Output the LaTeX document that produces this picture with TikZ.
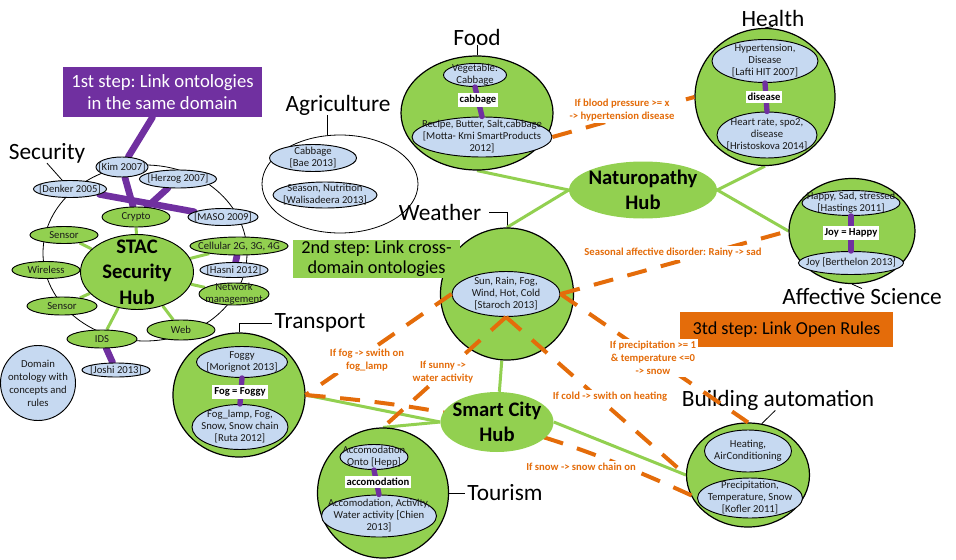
\documentclass[tikz,border=0pt]{standalone}
\usepackage{fontspec}
\setmainfont{Carlito}
\frenchspacing
\usetikzlibrary{shapes.geometric}
\pgfdeclarelayer{back}
\pgfdeclarelayer{dash}
\pgfdeclarelayer{top}
\pgfsetlayers{back,main,dash,top}
\definecolor{lgreen}{RGB}{146,208,80}
\definecolor{lblue}{RGB}{198,217,241}
\definecolor{purp}{RGB}{112,48,160}
\definecolor{orng}{RGB}{228,108,10}
\tikzset{
  every node/.style={inner sep=0pt},
  sz/.style 2 args={minimum width=#1*0.75pt, minimum height=#2*0.75pt},
  outl/.style={ellipse, draw=black, line width=0.6pt},
  ring/.style={ellipse, draw=black, line width=0.9pt, fill=lgreen},
  inn/.style={ellipse, draw=black, line width=0.7pt, fill=lblue},
  gnode/.style={ellipse, draw=black, line width=0.7pt, fill=lgreen},
  hubshape/.style={ellipse, fill=lgreen},
  txt/.style={font=\fontsize{8}{9}\selectfont, align=center, text=black!90},
  hubtxt/.style={font=\bfseries\fontsize{15.5}{19}\selectfont, align=center},
  big/.style={font=\fontsize{17.5}{20}\selectfont},
  eq/.style={fill=white, font=\bfseries\fontsize{8}{9}\selectfont, inner xsep=1.5pt, inner ysep=2pt},
  rule/.style={text=orng, font=\bfseries\fontsize{8}{9.75}\selectfont, align=center, fill=white, inner sep=1.5pt},
  gline/.style={draw=lgreen, line width=2.25pt},
  pline/.style={draw=purp, line width=5pt, line cap=round},
  pin/.style={draw=purp, line width=4pt, line cap=round},
  oline/.style={draw=orng, line width=3pt, dash pattern=on 15pt off 11pt},
  lead/.style={draw=black, line width=0.6pt},
}
\newcommand\ov[6]{\node[#1, sz={#4}{#5}] (#2) at (#3) {}; \node[txt] (#2-t) at (#2) {#6};}
\begin{document}
\begin{tikzpicture}[x=0.75pt,y=-0.75pt]
\useasboundingbox (0,0) rectangle (956,560);

% ---------- outline rings
\node[outl, sz={204}{176}] (secring) at (145,253) {};
\node[outl, sz={156}{98}] (agriring) at (340,184) {};

% ---------- security domain
\ov{inn}{kim}{122,167}{52}{20}{[Kim 2007]}
\ov{inn}{herzog}{178,179}{77}{18}{[Herzog 2007]}
\ov{inn}{denker}{70,189}{73}{17}{[Denker 2005]}
\ov{gnode}{crypto}{136,217}{68}{20}{Crypto}
\ov{inn}{maso}{223,217}{70}{17}{[MASO 2009]}
\ov{gnode}{sensorA}{64,235}{68}{17}{Sensor}
\ov{gnode}{wireless}{46,270}{68}{17}{Wireless}
\ov{gnode}{sensorB}{62,306}{70}{18}{Sensor}
\ov{gnode}{cellular}{239,246}{98}{18}{Cellular 2G, 3G, 4G}
\ov{inn}{hasni}{234,270}{68}{15}{[Hasni 2012]}
\ov{gnode}{netm}{234,294}{70}{22}{Network\\management}
\ov{gnode}{web}{181,330}{68}{20}{Web}
\ov{gnode}{ids}{102,339}{70}{18}{IDS}
\ov{inn}{joshi}{116,370}{68}{14}{[Joshi 2013]}
\node[gnode, sz={113}{75}] (stac) at (137,272) {};
\node[hubtxt] (stac-t) at (stac) {STAC\\Security\\Hub};
\node[inn, sz={75}{75}] (domain) at (38,383) {};
\node[txt, font=\fontsize{8}{9.75}\selectfont] (domain-t) at (domain) {Domain\\ontology with\\concepts and\\rules};

% ---------- agriculture
\ov{inn}{cabb}{313,158}{87}{27}{Cabbage\\{[}Bae 2013{]}}
\ov{inn}{season}{325,195}{104}{26}{Season, Nutrition\\{[}Walisadeera 2013{]}}

% ---------- food
\node[ring, sz={152}{114}] (food) at (477,113) {};
\ov{inn}{veg}{475,75}{63}{23}{Vegetable:\\Cabbage}
\ov{inn}{recipe}{482,137}{140}{40}{Recipe, Butter, Salt,cabbage\\{[}Motta- Kmi SmartProducts\\2012{]}}
\draw[pin] (veg.south) -- (recipe.north);
\node[eq] (foodeq) at (478,100) {cabbage};

% ---------- health
\node[ring, sz={140}{137}] (health) at (765,97) {};
\ov{inn}{hyper}{765,61}{106}{43}{Hypertension,\\Disease\\{[}Lafti HIT 2007{]}}
\ov{inn}{heart}{767,135}{100}{46}{Heart rate, spo2,\\disease\\{[}Hristoskova 2014{]}}
\draw[pin] (hyper.south) -- (heart.north);
\node[eq] (healtheq) at (764,97) {disease};

% ---------- affective
\node[ring, sz={126}{105}] (aff) at (852,231) {};
\ov{inn}{happy}{851,203}{98}{25}{Happy, Sad, stressed\\{[}Hastings 2011{]}}
\ov{inn}{joy}{851,263}{105}{23}{Joy [Berthelon 2013]}
\draw[pin] (happy.south) -- (joy.north);
\node[eq] (affeq) at (851,233) {Joy = Happy};

% ---------- weather
\node[ring, sz={133}{132}] (weather) at (507,294) {};
\ov{inn}{sun}{506,294}{108}{45}{Sun, Rain, Fog,\\Wind, Hot, Cold\\{[}Staroch 2013{]}}

% ---------- transport
\node[ring, sz={132}{124}] (transport) at (239,395) {};
\ov{inn}{foggy}{242,362}{91}{31}{Foggy\\{[}Morignot 2013{]}}
\ov{inn}{foglamp}{240,427}{96}{45}{Fog\_lamp, Fog,\\Snow, Snow chain\\{[}Ruta 2012{]}}
\draw[pin] (foggy.south) -- (foglamp.north);
\node[eq] (transeq) at (240,392) {Fog = Foggy};

% ---------- tourism
\node[ring, sz={131}{130}] (tourism) at (383,493) {};
\ov{inn}{accA}{374,457}{68}{25}{Accomodation\\Onto [Hepp]}
\ov{inn}{accB}{379,516}{115}{42}{Accomodation, Activity,\\Water activity [Chien\\2013]}
\draw[pin] (accA.south) -- (accB.north);
\node[eq] (toureq) at (378,482) {accomodation};

% ---------- building
\node[ring, sz={123}{104}] (building) at (748,475) {};
\ov{inn}{heat}{748,451}{87}{42}{Heating,\\AirConditioning}
\ov{inn}{precip}{750,498}{105}{40}{Precipitation,\\Temperature, Snow\\{[}Kofler 2011{]}}

% ---------- step 2 box
\node[fill=lgreen, sz={167}{38}, font=\fontsize{13.7}{15}\selectfont, align=center] (gbox) at (376.5,259) {2nd step: Link cross-\\domain ontologies};

% ---------- titles
\node[big] (seclbl) at (47,153) {Security};
\node[big] (agrilbl) at (338,105) {Agriculture};
\node[big] (foodlbl) at (477,37) {Food};
\node[big] (healthlbl) at (773,18) {Health};
\node[big] (weatherlbl) at (440,212) {Weather};
\node[big] (afflbl) at (862,297) {Affective Science};
\node[big] (translbl) at (320,323) {Transport};
\node[big] (tourlbl) at (505,493) {Tourism};
\node[big] (buildlbl) at (778,400) {Building automation};

% ---------- top layer: step boxes, hubs, rules
\begin{pgfonlayer}{top}
\node[fill=purp, text=white, sz={199}{50}, font=\fontsize{14}{17}\selectfont, align=center] (pbox) at (162.5,92) {1st step: Link ontologies\\in the same domain};
\node[fill=orng, sz={213}{35}, font=\fontsize{13.7}{16}\selectfont] (obox) at (786.5,329.5) {3td step: Link Open Rules};
\node[rule] (r1) at (622,110) {If blood pressure >= x\\-> hypertension disease};
\node[rule] (r2) at (673,253) {Seasonal affective disorder: Rainy -> sad};
\node[rule] (r3) at (653,358) {If precipitation >= 1\\\& temperature <=0\\-> snow};
\node[rule] (r4) at (610,397) {If cold -> swith on heating};
\node[rule] (r5) at (443,372) {If sunny ->\\water activity};
\node[rule] (r6) at (367,360) {If fog -> swith on\\fog\_lamp};
\node[rule] (r7) at (581,467) {If snow -> snow chain on};
\node[hubshape, sz={148}{57}] (nat) at (643,190) {};
\node[hubtxt] (nat-t) at (nat) {Naturopathy\\Hub};
\node[hubshape, sz={113}{60}] (smart) at (497,422) {};
\node[hubtxt] (smart-t) at (smart) {Smart City\\Hub};
\end{pgfonlayer}

% ---------- back layer: leaders, green and purple connectors
\begin{pgfonlayer}{back}
\draw[lead] (seclbl.south) -- (denker);
\draw[lead] ([xshift=-8pt]agrilbl.south) -- ([xshift=-8pt]agrilbl.south |- agriring.north);
\draw[lead] (foodlbl.south) -- (food.north);
\draw[lead] (healthlbl.south) -- (health.north);
\draw[lead] ([xshift=6pt]weatherlbl.east) -| (weather.north);
\draw[lead] ([xshift=-2pt]translbl.west) -| (transport.north);
\draw[lead] (tourism.east) -- ([xshift=-2pt]tourlbl.west);
\draw[lead] ([xshift=-2pt]buildlbl.south) -- (building.75);
\draw[lead] (aff.south) -- (afflbl.north);
\foreach \n in {sensorA,wireless,sensorB,cellular,netm,web,ids,crypto}
  \draw[gline] (stac) -- (\n);
\draw[gline] (nat.west) -- (food.south);
\draw[gline] (nat.west) -- (weather.north);
\draw[gline] (nat.east) -- (health.south);
\draw[gline] (nat.east) -- (aff.west);
\draw[gline] (weather) -- (smart);
\draw[gline] (smart.west) -- (transport.east);
\draw[gline] (smart.west) -- (tourism.north);
\draw[gline] (smart.east) -- (building.west);
\draw[pline] ([xshift=-7.5pt]pbox.south) -- (kim);
\draw[pline] (kim) -- (crypto);
\draw[pline] (herzog) -- (crypto);
\draw[pline] (denker) -- (maso);
\draw[pline] (cellular) -- (hasni);
\draw[pline] (ids) -- (joshi);
\end{pgfonlayer}

% ---------- dashed rule connectors
\begin{pgfonlayer}{dash}
\draw[oline] (recipe.east) -- (health.west);
\draw[oline] (sun.east) -- (aff.west);
\draw[oline] (sun.east) -- (building.north);
\draw[oline] (sun.south) -- (building.west);
\draw[oline] (sun.south) -- (tourism.north);
\draw[oline] (sun.west) -- (transport.east);
\draw[oline] (transport.east) to[bend left=10] (precip.west);
\end{pgfonlayer}
\end{tikzpicture}
\end{document}
